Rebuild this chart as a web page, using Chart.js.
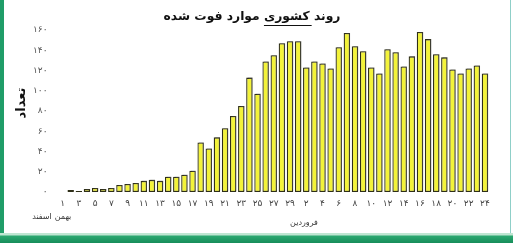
<!DOCTYPE html>
<html><head><meta charset="utf-8">
<script src="https://cdn.jsdelivr.net/npm/chart.js@4/dist/chart.umd.min.js"></script>
<style>
html,body{margin:0;padding:0;background:#fff;overflow:hidden}
#wrap{position:relative;width:513px;height:243px;background:#fff}
canvas{position:absolute;left:0;top:0}
.fl{position:absolute;left:0;top:0;width:4px;height:243px;background:#1f9d68}
.fr{position:absolute;left:510px;top:0;width:1px;height:234px;background:#8fcfc8}
.fb{position:absolute;left:0;top:233px;width:513px;height:10px;background:linear-gradient(#bfe6d2 0,#bfe6d2 2px,#2ba870 3px,#178d5a 10px)}
</style></head><body>
<div id="wrap"><canvas id="c" width="513" height="243"></canvas><div class="fl"></div><div class="fr"></div><div class="fb"></div></div>
<script>
// ---- data ----
const esfandDays = ['۱','۲','۳','۴','۵','۶','۷','۸','۹','۱۰','۱۱','۱۲','۱۳','۱۴','۱۵','۱۶','۱۷','۱۸','۱۹','۲۰','۲۱','۲۲','۲۳','۲۴','۲۵','۲۶','۲۷','۲۸','۲۹'];
const farvardinDays = ['۱','۲','۳','۴','۵','۶','۷','۸','۹','۱۰','۱۱','۱۲','۱۳','۱۴','۱۵','۱۶','۱۷','۱۸','۱۹','۲۰','۲۱','۲۲','۲۳','۲۴'];
const categories = esfandDays.concat(farvardinDays);
const esfandDeaths = [0,2,1,3,4,3,4,7,8,9,11,12,11,15,15,17,21,49,43,54,63,75,85,113,97,129,135,147,149];
const farvardinDeaths = [149,123,129,127,122,143,157,144,139,123,117,141,138,124,134,158,151,136,133,121,117,122,125,117];
const deaths = esfandDeaths.concat(farvardinDeaths);
const yTickLabels = ['۰','۱۰','۲۰','۳۰','۴۰','۵۰','۶۰','۷۰','۸۰','۹۰','۱۰۰','۱۱۰','۱۲۰','۱۳۰','۱۴۰','۱۵۰','۱۶۰'];
const titleParts = ['روند ', 'کشوری', ' موارد فوت شده'];
const yTitle = 'تعداد';
const monthLabels = {bahman:'بهمن', esfand:'اسفند', farvardin:'فروردین'};

const FONT = '"DejaVu Sans", sans-serif';

const shadowPlugin = {
  id:'shadow',
  beforeDatasetsDraw(chart){
    const c = chart.ctx; c.save();
    c.shadowColor = 'rgba(80,80,80,0.45)'; c.shadowOffsetX = 1.5; c.shadowOffsetY = -1; c.shadowBlur = 0;
  },
  afterDatasetsDraw(chart){ chart.ctx.restore(); }
};

const textPlugin = {
  id:'texts',
  afterDraw(chart){
    const c = chart.ctx;
    c.save();
    // title
    const full = titleParts.join('');
    c.font = 'bold 14px ' + FONT;
    let w = c.measureText(full).width;
    const size = 14 * 177 / w;
    c.font = 'bold ' + size.toFixed(2) + 'px ' + FONT;
    w = c.measureText(full).width;
    const cx = 252, ty = 17;
    c.fillStyle = '#111';
    c.direction = 'rtl';
    c.textAlign = 'center';
    c.textBaseline = 'middle';
    c.fillText(full, cx, ty);
    const right = cx + w / 2;
    const w1 = c.measureText(titleParts[0]).width;
    const w2 = c.measureText(titleParts[0] + titleParts[1]).width;
    c.strokeStyle = '#111'; c.lineWidth = 1;
    c.beginPath(); c.moveTo(right - w2, 25.5); c.lineTo(right - w1 + 2, 25.5); c.stroke();
    // y title
    c.save();
    c.translate(22, 103);
    c.rotate(-Math.PI / 2);
    c.font = 'bold 13px ' + FONT;
    c.fillText(yTitle, 0, 0);
    c.restore();
    // month labels
    c.font = '8px ' + FONT;
    c.fillStyle = '#333';
    c.fillText(monthLabels.esfand, 42, 217);
    c.fillText(monthLabels.bahman, 63, 217);
    c.fillText(monthLabels.farvardin, 304, 223);
    c.restore();
  }
};

new Chart(document.getElementById('c'), {
  type:'bar',
  data:{
    labels: categories,
    datasets:[{
      data: deaths,
      backgroundColor:'#f3f33a',
      borderColor:'#2f2f18',
      borderWidth:1.3,
      borderSkipped:false,
      categoryPercentage:1,
      barPercentage:0.79
    }]
  },
  options:{
    responsive:false,
    animation:false,
    layout:{padding:{left:0,right:24,top:30,bottom:0}},
    plugins:{legend:{display:false},tooltip:{enabled:false},title:{display:false}},
    scales:{
      x:{
        grid:{display:false,drawTicks:false},
        border:{display:false},
        ticks:{autoSkip:false,maxRotation:0,minRotation:0,padding:6,color:'#444',
          font:{family:FONT,size:9},
          callback:(v,i)=> i%2===0 ? categories[i] : ''},
        afterFit:s=>{ s.height = 51; }
      },
      y:{
        min:0,max:160,
        grid:{display:false,drawTicks:false},
        border:{display:false},
        ticks:{stepSize:10,padding:11,color:'#555',font:{family:FONT,size:9},
          callback:(v)=> yTickLabels[Math.round(v/10)]},
        afterFit:s=>{ s.width = 58.5; }
      }
    }
  },
  plugins:[shadowPlugin,textPlugin]
});
</script>
</body></html>
